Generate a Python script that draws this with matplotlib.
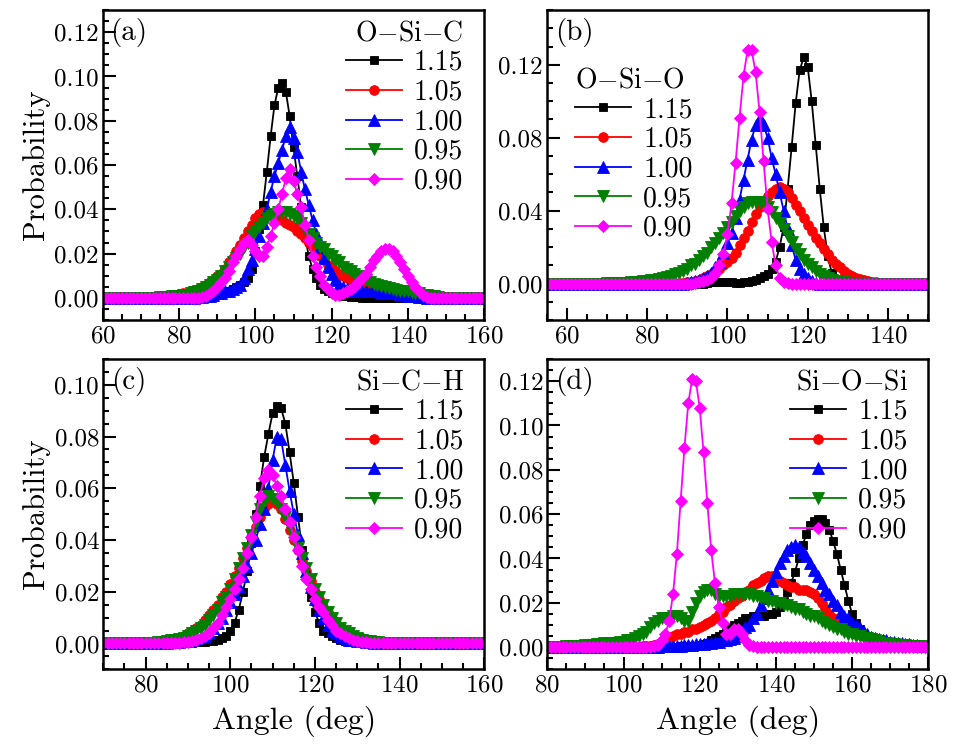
import numpy as np
import matplotlib
matplotlib.use("Agg")
import matplotlib.pyplot as plt
from matplotlib.ticker import MultipleLocator

# 角度分布データ (1 deg 間隔, (開始角度, 値リスト)), 範囲外は 0
labels = ['1.15', '1.05', '1.00', '0.95', '0.90']

# (a) O-Si-C
a_angle = list(range(60, 161))
a_115 = (85, [0.0005, 0.0005, 0.001, 0.001, 0.0015, 0.002, 0.002, 0.003, 0.003, 0.004, 0.005, 0.006, 0.007,
              0.009, 0.013, 0.021, 0.031, 0.042, 0.057, 0.073, 0.087, 0.095, 0.097, 0.093, 0.082, 0.068, 0.055,
              0.041, 0.028, 0.019, 0.013, 0.009, 0.006, 0.004, 0.003, 0.002, 0.002, 0.0015, 0.001, 0.001,
              0.0005, 0.0005, 0.0005])
a_105 = (75, [0.0005, 0.0005, 0.001, 0.001, 0.001, 0.0015, 0.002, 0.002, 0.003, 0.003, 0.004, 0.005, 0.006,
              0.007, 0.008, 0.010, 0.011, 0.013, 0.016, 0.018, 0.021, 0.024, 0.027, 0.030, 0.033, 0.036, 0.038,
              0.039, 0.039, 0.038, 0.037, 0.036, 0.035, 0.034, 0.033, 0.032, 0.030, 0.029, 0.027, 0.025, 0.023,
              0.021, 0.019, 0.017, 0.015, 0.014, 0.012, 0.011, 0.010, 0.009, 0.008, 0.007, 0.007, 0.006, 0.005,
              0.005, 0.004, 0.004, 0.003, 0.003, 0.002, 0.002, 0.0015, 0.0015, 0.001, 0.001, 0.001, 0.0005,
              0.0005])
a_100 = (85, [0.0005, 0.0005, 0.001, 0.001, 0.0015, 0.002, 0.002, 0.003, 0.003, 0.004, 0.005, 0.006, 0.009,
              0.013, 0.017, 0.022, 0.028, 0.034, 0.040, 0.048, 0.055, 0.061, 0.067, 0.073, 0.077, 0.072, 0.066,
              0.057, 0.049, 0.042, 0.035, 0.029, 0.023, 0.018, 0.014, 0.011, 0.008, 0.006, 0.005, 0.004, 0.003,
              0.003, 0.003, 0.003, 0.003, 0.003, 0.003, 0.003, 0.002, 0.002, 0.002, 0.002, 0.002, 0.0015,
              0.0015, 0.001, 0.001, 0.001, 0.0005, 0.0005])
a_095 = (75, [0.0005, 0.0005, 0.0005, 0.001, 0.001, 0.001, 0.0015, 0.0015, 0.002, 0.0025, 0.003, 0.004, 0.005,
              0.006, 0.007, 0.008, 0.010, 0.012, 0.014, 0.016, 0.018, 0.020, 0.023, 0.025, 0.028, 0.030, 0.032,
              0.034, 0.036, 0.037, 0.038, 0.039, 0.039, 0.039, 0.038, 0.037, 0.036, 0.034, 0.031, 0.029, 0.027,
              0.025, 0.023, 0.022, 0.020, 0.019, 0.017, 0.016, 0.014, 0.013, 0.012, 0.011, 0.010, 0.009, 0.008,
              0.007, 0.0065, 0.006, 0.0055, 0.005, 0.0045, 0.004, 0.0035, 0.003, 0.003, 0.003, 0.0025, 0.002,
              0.002, 0.0015, 0.0015, 0.001, 0.001, 0.0005])
a_090 = (86, [0.0005, 0.001, 0.002, 0.003, 0.005, 0.007, 0.009, 0.012, 0.016, 0.019, 0.022, 0.025, 0.026,
              0.024, 0.021, 0.019, 0.019, 0.023, 0.028, 0.034, 0.040, 0.047, 0.054, 0.058, 0.053, 0.047, 0.041,
              0.033, 0.026, 0.019, 0.014, 0.010, 0.006, 0.004, 0.002, 0.0015, 0.0015, 0.002, 0.003, 0.004,
              0.005, 0.007, 0.009, 0.011, 0.014, 0.017, 0.019, 0.021, 0.022, 0.022, 0.021, 0.019, 0.016, 0.013,
              0.010, 0.007, 0.005, 0.003, 0.0015, 0.0005])

# (b) O-Si-O
b_angle = list(range(55, 151))
b_115 = (95, [0.0005, 0.001, 0.001, 0.001, 0.001, 0.001, 0.001, 0.0005, 0.0005, 0.001, 0.001, 0.0015, 0.002,
              0.003, 0.004, 0.005, 0.008, 0.012, 0.020, 0.031, 0.052, 0.075, 0.099, 0.117, 0.124, 0.119, 0.100,
              0.076, 0.052, 0.031, 0.015, 0.006, 0.002, 0.001, 0.0005])
b_105 = (88, [0.0005, 0.0005, 0.001, 0.001, 0.0015, 0.002, 0.003, 0.004, 0.005, 0.006, 0.008, 0.010, 0.012,
              0.014, 0.017, 0.021, 0.025, 0.029, 0.034, 0.038, 0.042, 0.045, 0.048, 0.050, 0.052, 0.053, 0.052,
              0.050, 0.047, 0.043, 0.040, 0.036, 0.032, 0.029, 0.025, 0.022, 0.019, 0.016, 0.013, 0.011, 0.009,
              0.007, 0.005, 0.004, 0.003, 0.0025, 0.002, 0.0015, 0.001, 0.001, 0.0005])
b_100 = (90, [0.0005, 0.001, 0.0015, 0.002, 0.003, 0.004, 0.006, 0.009, 0.012, 0.017, 0.022, 0.028, 0.036,
              0.046, 0.057, 0.068, 0.079, 0.087, 0.091, 0.087, 0.080, 0.069, 0.060, 0.050, 0.040, 0.030, 0.021,
              0.013, 0.008, 0.005, 0.003, 0.0015, 0.0005])
b_095 = (70, [0.0003, 0.0003, 0.0004, 0.0004, 0.0005, 0.0005, 0.0007, 0.0008, 0.001, 0.0012, 0.0015, 0.0018,
              0.002, 0.0025, 0.003, 0.0035, 0.004, 0.005, 0.006, 0.007, 0.008, 0.010, 0.011, 0.013, 0.015, 0.017,
              0.020, 0.022, 0.025, 0.028, 0.031, 0.034, 0.037, 0.040, 0.042, 0.044, 0.045, 0.045, 0.045, 0.044,
              0.042, 0.039, 0.036, 0.033, 0.030, 0.026, 0.023, 0.019, 0.016, 0.013, 0.011, 0.009, 0.007, 0.005,
              0.004, 0.003, 0.002, 0.0015, 0.001, 0.001, 0.0005])
b_090 = (92, [0.0005, 0.001, 0.0015, 0.002, 0.003, 0.006, 0.010, 0.016, 0.027, 0.044, 0.066, 0.091, 0.114,
              0.128, 0.128, 0.116, 0.094, 0.067, 0.041, 0.023, 0.010, 0.003, 0.001, 0.0005])

# (c) Si-C-H
c_angle = list(range(70, 161))
c_115 = (90, [0.0003, 0.0003, 0.0004, 0.0005, 0.0007, 0.001, 0.001, 0.0015, 0.002, 0.003, 0.005, 0.008, 0.013,
              0.020, 0.028, 0.039, 0.050, 0.061, 0.072, 0.081, 0.089, 0.092, 0.091, 0.085, 0.074, 0.062, 0.049,
              0.036, 0.026, 0.018, 0.012, 0.008, 0.005, 0.004, 0.003, 0.002, 0.0015, 0.001, 0.0007, 0.0005,
              0.0004, 0.0003])
c_105 = (80, [0.0003, 0.0004, 0.0004, 0.0005, 0.0007, 0.001, 0.0012, 0.0015, 0.002, 0.003, 0.004, 0.005, 0.006,
              0.007, 0.009, 0.011, 0.013, 0.015, 0.018, 0.020, 0.023, 0.026, 0.029, 0.033, 0.037, 0.041, 0.045,
              0.049, 0.052, 0.054, 0.055, 0.054, 0.052, 0.048, 0.044, 0.040, 0.036, 0.032, 0.028, 0.024, 0.020,
              0.017, 0.014, 0.012, 0.010, 0.008, 0.006, 0.005, 0.004, 0.003, 0.0025, 0.002, 0.0015, 0.0012,
              0.001, 0.0008, 0.0006, 0.0005])
c_100 = (85, [0.0003, 0.0004, 0.0005, 0.0005, 0.0008, 0.001, 0.0015, 0.002, 0.0025, 0.003, 0.004, 0.006, 0.008,
              0.010, 0.013, 0.016, 0.019, 0.022, 0.026, 0.030, 0.035, 0.040, 0.046, 0.052, 0.060, 0.071, 0.080,
              0.079, 0.069, 0.059, 0.050, 0.042, 0.035, 0.028, 0.022, 0.017, 0.013, 0.010, 0.007, 0.005, 0.004,
              0.003, 0.002, 0.0015, 0.0012, 0.001, 0.0008, 0.0006, 0.0005])
c_095 = (82, [0.0003, 0.0005, 0.0007, 0.001, 0.0012, 0.0015, 0.0018, 0.002, 0.003, 0.004, 0.005, 0.006, 0.007,
              0.009, 0.011, 0.013, 0.016, 0.018, 0.021, 0.025, 0.029, 0.033, 0.037, 0.042, 0.047, 0.052, 0.055,
              0.057, 0.056, 0.055, 0.052, 0.049, 0.045, 0.041, 0.037, 0.033, 0.029, 0.025, 0.021, 0.018, 0.015,
              0.012, 0.010, 0.008, 0.006, 0.005, 0.004, 0.003, 0.002, 0.0015, 0.001, 0.0008, 0.0006, 0.0005])
c_090 = (88, [0.0003, 0.0004, 0.0005, 0.001, 0.0015, 0.002, 0.003, 0.004, 0.006, 0.008, 0.011, 0.014, 0.017,
              0.021, 0.025, 0.029, 0.035, 0.041, 0.049, 0.057, 0.064, 0.067, 0.065, 0.061, 0.057, 0.052, 0.047,
              0.041, 0.036, 0.030, 0.025, 0.021, 0.017, 0.014, 0.012, 0.009, 0.007, 0.005, 0.004, 0.003, 0.002,
              0.0015, 0.001, 0.0007, 0.0005])

# (d) Si-O-Si
d_angle = list(range(80, 181))
d_115 = (115, [0.0003, 0.0004, 0.0004, 0.0005, 0.0007, 0.001, 0.0015, 0.002, 0.003, 0.004, 0.005, 0.006, 0.008,
               0.009, 0.010, 0.011, 0.012, 0.013, 0.013, 0.014, 0.014, 0.014, 0.014, 0.015, 0.015, 0.016, 0.018,
               0.021, 0.025, 0.029, 0.034, 0.040, 0.046, 0.051, 0.055, 0.057, 0.058, 0.058, 0.056, 0.053, 0.048,
               0.042, 0.035, 0.028, 0.021, 0.015, 0.011, 0.008, 0.006, 0.004, 0.003, 0.002, 0.0015, 0.001,
               0.0008, 0.0006, 0.0005, 0.0004, 0.0003])
d_105 = (105, [0.0003, 0.0004, 0.0005, 0.001, 0.0015, 0.002, 0.003, 0.004, 0.005, 0.006, 0.006, 0.007, 0.007,
               0.008, 0.008, 0.009, 0.010, 0.011, 0.012, 0.013, 0.015, 0.016, 0.018, 0.019, 0.021, 0.022, 0.023,
               0.025, 0.026, 0.028, 0.029, 0.030, 0.031, 0.032, 0.032, 0.031, 0.030, 0.029, 0.028, 0.027, 0.027,
               0.026, 0.026, 0.026, 0.025, 0.024, 0.022, 0.020, 0.017, 0.015, 0.013, 0.011, 0.010, 0.009, 0.008,
               0.007, 0.006, 0.006, 0.005, 0.005, 0.004, 0.004, 0.003, 0.003, 0.0025, 0.002, 0.0018, 0.0015,
               0.0012, 0.001, 0.0008, 0.0007, 0.0005, 0.0004, 0.0003, 0.0003])
d_100 = (110, [0.0003, 0.0003, 0.0004, 0.0005, 0.0005, 0.0006, 0.0008, 0.001, 0.001, 0.0012, 0.0013, 0.0015,
               0.0018, 0.002, 0.0022, 0.0025, 0.003, 0.003, 0.0035, 0.004, 0.005, 0.007, 0.009, 0.010, 0.013,
               0.015, 0.019, 0.022, 0.026, 0.030, 0.034, 0.038, 0.041, 0.044, 0.045, 0.046, 0.045, 0.043, 0.041,
               0.038, 0.035, 0.032, 0.029, 0.026, 0.024, 0.021, 0.019, 0.016, 0.014, 0.013, 0.011, 0.010, 0.0085,
               0.007, 0.006, 0.0045, 0.004, 0.0035, 0.003, 0.003, 0.0025, 0.0023, 0.002, 0.0018, 0.0015, 0.0012,
               0.001, 0.0008, 0.0005, 0.0004, 0.0003])
d_095 = (85, [0.0003, 0.0004, 0.0004, 0.0005, 0.0007, 0.001, 0.001, 0.001, 0.0012, 0.0015, 0.0017, 0.002, 0.002,
              0.002, 0.0022, 0.0025, 0.003, 0.003, 0.004, 0.005, 0.006, 0.007, 0.009, 0.011, 0.012, 0.013, 0.013,
              0.013, 0.014, 0.014, 0.013, 0.012, 0.012, 0.016, 0.020, 0.023, 0.025, 0.026, 0.026, 0.024, 0.023,
              0.023, 0.023, 0.023, 0.024, 0.024, 0.024, 0.024, 0.024, 0.023, 0.023, 0.022, 0.022, 0.021, 0.021,
              0.020, 0.020, 0.019, 0.019, 0.018, 0.017, 0.017, 0.016, 0.015, 0.014, 0.014, 0.013, 0.012, 0.011,
              0.010, 0.009, 0.008, 0.008, 0.007, 0.006, 0.006, 0.005, 0.005, 0.004, 0.004, 0.0035, 0.003, 0.0025,
              0.002, 0.002, 0.0015, 0.0015, 0.001, 0.001, 0.0008, 0.0006, 0.0005, 0.0004, 0.0003])
d_090 = (108, [0.0005, 0.001, 0.003, 0.006, 0.012, 0.024, 0.042, 0.066, 0.090, 0.110, 0.121, 0.120, 0.108,
               0.088, 0.065, 0.044, 0.029, 0.018, 0.011, 0.006, 0.006, 0.008, 0.008, 0.006, 0.003, 0.001, 0.0005])

colors = ['black', '#FF0000', '#0000FF', '#008000', '#FF00FF']
markers = ['s', 'o', '^', 'v', 'D']
msizes = [6, 7, 8, 8, 6]


def on_grid(grid, series):
    # 開始角度から値を配置, それ以外は 0
    start, vals = series
    y = np.zeros(len(grid))
    i = grid.index(start)
    y[i:i + len(vals)] = vals
    return y


plt.rcParams['font.family'] = 'serif'
plt.rcParams['font.serif'] = ['cmr10']
plt.rcParams['mathtext.fontset'] = 'cm'
plt.rcParams['axes.unicode_minus'] = False
plt.rcParams['axes.formatter.use_mathtext'] = True

fig = plt.figure(figsize=(9.59, 7.46), dpi=100)

panels = [
    ('(a)', 'O$-$Si$-$C', a_angle, [a_115, a_105, a_100, a_095, a_090],
     [0.1074, 0.5710, 0.3973, 0.4155], (60, 160), (-0.01, 0.13), 0.02, 0.005),
    ('(b)', 'O$-$Si$-$O', b_angle, [b_115, b_105, b_100, b_095, b_090],
     [0.5704, 0.5710, 0.3973, 0.4155], (55, 150), (-0.02, 0.15), 0.04, 0.01),
    ('(c)', 'Si$-$C$-$H', c_angle, [c_115, c_105, c_100, c_095, c_090],
     [0.1077, 0.1028, 0.3973, 0.4160], (70, 160), (-0.01, 0.11), 0.02, 0.005),
    ('(d)', 'Si$-$O$-$Si', d_angle, [d_115, d_105, d_100, d_095, d_090],
     [0.5707, 0.1028, 0.3973, 0.4160], (80, 180), (-0.01, 0.13), 0.02, 0.005),
]

for k, (tag, title, grid, series, pos, xlim, ylim, ymaj, ymin) in enumerate(panels):
    ax = fig.add_axes(pos)
    for s, lab, c, m, ms in zip(series, labels, colors, markers, msizes):
        ax.plot(grid, on_grid(grid, s), color=c, marker=m, markersize=ms,
                markeredgewidth=0.6, linewidth=1.3, label=lab)
    ax.set_xlim(*xlim)
    ax.set_ylim(*ylim)
    ax.xaxis.set_major_locator(MultipleLocator(20))
    ax.xaxis.set_minor_locator(MultipleLocator(5))
    ax.yaxis.set_major_locator(MultipleLocator(ymaj))
    ax.yaxis.set_minor_locator(MultipleLocator(ymin))
    ax.yaxis.set_major_formatter(plt.FormatStrFormatter('%.2f'))
    ax.tick_params(which='both', direction='in', top=False, right=False, labelsize=18, width=1.5)
    ax.tick_params(which='major', length=9, pad=4)
    ax.tick_params(which='minor', length=4.5)
    ax.tick_params(axis='y', which='major', pad=3)
    for sp in ax.spines.values():
        sp.set_linewidth(1.8)
    ax.text(0.02, 0.975, tag, transform=ax.transAxes, ha='left', va='top', fontsize=21)

    if k == 1:
        leg = ax.legend(loc='upper left', bbox_to_anchor=(0.03, 0.87), frameon=False, fontsize=20,
                        title=title, title_fontsize=20, handlelength=2.0, handletextpad=0.45,
                        labelspacing=0.12, borderpad=0.1, alignment='left')
    else:
        leg = ax.legend(loc='upper right', bbox_to_anchor=(0.99, 1.022), frameon=False, fontsize=20,
                        title=title, title_fontsize=20, handlelength=2.0, handletextpad=0.45,
                        labelspacing=0.12, borderpad=0.1, alignment='right')
    leg.set_zorder(5)

    if k in (0, 2):
        ax.set_ylabel('Probability', fontsize=22, labelpad=3)
    if k in (2, 3):
        ax.set_xlabel('Angle (deg)', fontsize=23, labelpad=6)

fig.savefig('out.png', dpi=100)
